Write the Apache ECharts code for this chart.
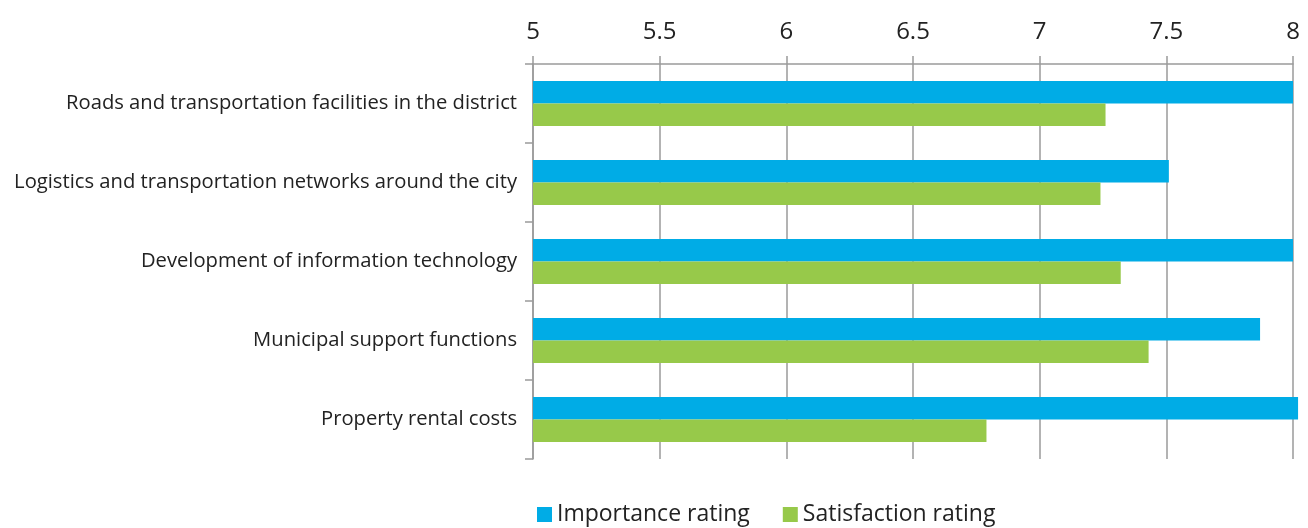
<!DOCTYPE html>
<html>
<head>
<meta charset="utf-8">
<script src="https://cdn.jsdelivr.net/npm/echarts@6/dist/echarts.min.js"></script>
<style>
  html, body { margin: 0; padding: 0; background: #fff; }
  #chart { width: 1308px; height: 528px; }
</style>
</head>
<body>
<div id="chart"></div>
<script>
// Chart data
const categories = [
    'Roads and transportation facilities in the district',
    'Logistics and transportation networks around the city',
    'Development of information technology',
    'Municipal support functions',
    'Property rental costs'
];
const importanceRating = [8.0, 7.51, 8.0, 7.87, 8.02];
const satisfactionRating = [7.26, 7.24, 7.32, 7.43, 6.79];
const xTicks = [5, 5.5, 6, 6.5, 7, 7.5, 8];

const AXIS_MIN = xTicks[0];
const FONT = '"Open Sans", sans-serif';
const GRID_COLOR = '#9a9a9a';

// bars have to start at the axis min (5), and one bar runs past the max,
// so each series sits on a hidden base of AXIS_MIN and is not clipped
const baseValues = categories.map(() => AXIS_MIN);
const aboveBase = arr => arr.map(v => +(v - AXIS_MIN).toFixed(4));

const chart = echarts.init(document.getElementById('chart'));

const hiddenBase = (stack) => ({
    name: 'base-' + stack,
    type: 'bar',
    stack: stack,
    data: baseValues,
    barWidth: 22.5,
    barGap: '0%',
    clip: false,
    silent: true,
    itemStyle: { color: 'rgba(0,0,0,0)' }
});

const option = {
    animation: false,
    grid: { left: 533, right: 15, top: 64, bottom: 69, containLabel: false },
    legend: {
        bottom: -3,
        left: 532,
        itemWidth: 15,
        itemHeight: 15,
        itemGap: 33,
        icon: 'rect',
        textStyle: { fontFamily: FONT, fontSize: 23, color: '#222' },
        data: ['Importance rating', 'Satisfaction rating']
    },
    xAxis: {
        type: 'value',
        position: 'top',
        min: AXIS_MIN,
        max: xTicks[xTicks.length - 1],
        interval: 0.5,
        axisLine: { show: true, lineStyle: { color: GRID_COLOR, width: 1.5 } },
        axisTick: { show: true, length: 8, lineStyle: { color: GRID_COLOR, width: 1.5 } },
        splitLine: { show: true, lineStyle: { color: GRID_COLOR, width: 1.5 } },
        axisLabel: { fontFamily: FONT, fontSize: 24, color: '#222', margin: 20 }
    },
    yAxis: {
        type: 'category',
        inverse: true,
        data: categories,
        axisLine: { show: true, lineStyle: { color: GRID_COLOR, width: 1.5 } },
        axisTick: { show: true, length: 8, lineStyle: { color: GRID_COLOR, width: 1.5 } },
        axisLabel: { fontFamily: FONT, fontSize: 20.2, color: '#222', margin: 16 }
    },
    series: [
        hiddenBase('imp'),
        {
            name: 'Importance rating',
            type: 'bar',
            stack: 'imp',
            data: aboveBase(importanceRating),
            barWidth: 22.5,
            barGap: '0%',
            clip: false,
            itemStyle: { color: '#00ace6' }
        },
        hiddenBase('sat'),
        {
            name: 'Satisfaction rating',
            type: 'bar',
            stack: 'sat',
            data: aboveBase(satisfactionRating),
            barWidth: 22.5,
            barGap: '0%',
            clip: false,
            itemStyle: { color: '#97c94a' }
        }
    ]
};

chart.setOption(option);
window.addEventListener('resize', () => chart.resize());
</script>
</body>
</html>
